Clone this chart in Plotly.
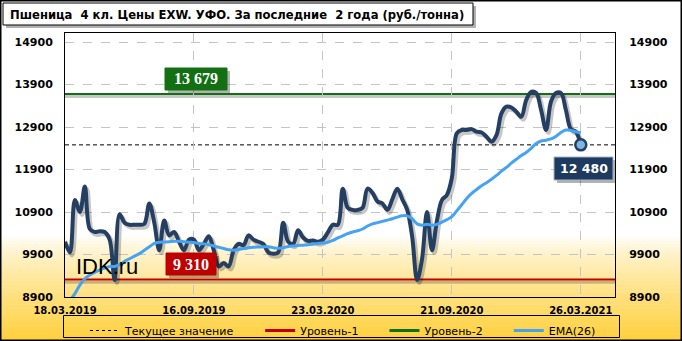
import plotly.graph_objects as go

# ---------------- data ----------------
tick_labels = ["18.03.2019", "16.09.2019", "23.03.2020", "21.09.2020", "26.03.2021"]
tick_index = [0, 26, 52, 78, 104]

price = [10200, 9950, 11180, 10900, 11500, 10500, 10430, 10450, 10430, 10250,
         9300, 10850, 10650, 10600, 10600, 10600, 10620, 11100, 10650, 10000,
         10700, 10350, 10430, 10200, 10000, 10250, 10250, 10000, 10150, 10330,
         10000, 9620, 9700, 9620, 10000, 10150, 10120, 10350, 10250, 10200,
         10150, 9950, 9920, 9950, 10650, 10200, 10150, 10470, 10300, 10220,
         10230, 10200, 10250, 10420, 10600, 10600, 11450, 11000, 10950, 10950,
         11000, 11450, 11350, 11150, 11100, 10950, 11200, 11450, 11200, 10950,
         10320, 9300, 9800, 10900, 10000, 10700, 11180, 11300, 11700, 12750,
         12830, 12830, 12850, 12790, 12770, 12670, 12555, 12710, 13220, 13380,
         13360, 13260, 13140, 13535, 13730, 13700, 13300, 12830, 13500, 13700,
         13700, 13300, 12850, 12790, 12480]

ema26 = [8650, 8820, 8980, 9180, 9330, 9420, 9480, 9540, 9580, 9620,
         9620, 9660, 9740, 9800, 9860, 9920, 10000, 10080, 10160, 10190,
         10195, 10200, 10210, 10210, 10200, 10190, 10180, 10160, 10150, 10130,
         10100, 10070, 10040, 10010, 10000, 10020, 10040, 10060, 10070, 10075,
         10080, 10080, 10060, 10045, 10060, 10090, 10100, 10110, 10120, 10130,
         10145, 10160, 10170, 10190, 10230, 10290, 10340, 10390, 10430, 10460,
         10500, 10570, 10620, 10650, 10680, 10710, 10740, 10780, 10810, 10810,
         10740, 10620, 10590, 10610, 10590, 10610, 10660, 10720, 10790, 10930,
         11070, 11220, 11340, 11430, 11520, 11590, 11670, 11760, 11860, 11950,
         12050, 12140, 12230, 12300, 12400, 12510, 12570, 12590, 12620, 12680,
         12770, 12830, 12820, 12790, 12760]

level1 = 9310
level2 = 13679
current_value = 12480
level1_text = "9 310"
level2_text = "13 679"
current_text = "12 480"
y_ticks = [8900, 9900, 10900, 11900, 12900, 13900, 14900]
y_tick_text = [str(v) for v in y_ticks]

legend_names = ["Текущее значение", "Уровень-1", "Уровень-2", "EMA(26)"]
title_text = "Пшеница  4 кл. Цены EXW. УФО. За последние  2 года (руб./тонна)"

# ---------------- layout geometry ----------------
W, H = 682, 341
ML, MR, MT, MB = 65, 67, 33, 44
PW, PH = W - ML - MR, H - MT - MB
X_RANGE = [0, 110.9]
Y_RANGE = [8900, 15112]


def px(xp):
    return (xp - ML) / PW


def py(yp):
    return (H - MB - yp) / PH


NB = "\u00a0"
idx = list(range(len(price)))
idx_e = list(range(len(ema26)))

DARK = "#243F62"
BLUE = "#45A3F2"
RED = "#C00000"
GREEN = "#127012"
FONT = "DejaVu Sans"

fig = go.Figure()

# legend-only entries for reference lines (trailing no-break spaces set item spacing)
fig.add_trace(go.Scatter(x=[None], y=[None], mode="lines", name=legend_names[0] + NB * 6,
                         line=dict(color="black", width=1, dash="3px,3px")))
fig.add_trace(go.Scatter(x=[None], y=[None], mode="lines", name=legend_names[1] + NB * 6,
                         line=dict(color=RED, width=3)))
fig.add_trace(go.Scatter(x=[None], y=[None], mode="lines", name=legend_names[2] + NB * 6,
                         line=dict(color=GREEN, width=3)))

# shadow of main series
fig.add_trace(go.Scatter(x=[i + 0.45 for i in idx], y=[v - 65 for v in price], mode="lines",
                         line=dict(color="rgba(0,0,0,0.22)", width=4.5, shape="spline", smoothing=1),
                         showlegend=False, hoverinfo="skip"))
# main series
fig.add_trace(go.Scatter(x=idx, y=price, mode="lines", name="Цена",
                         line=dict(color=DARK, width=4, shape="spline", smoothing=1),
                         showlegend=False))
# EMA
fig.add_trace(go.Scatter(x=idx_e, y=ema26, mode="lines", name=legend_names[3],
                         line=dict(color=BLUE, width=3, shape="spline", smoothing=1)))
# last point marker
fig.add_trace(go.Scatter(x=[idx[-1]], y=[price[-1]], mode="markers", showlegend=False,
                         marker=dict(size=11, color="#7DB6DE", line=dict(color=DARK, width=2.5))))
# right axis carrier
fig.add_trace(go.Scatter(x=[None], y=[None], yaxis="y2", showlegend=False))

shapes = []
# background gradient stripes (bottom area)
top_px, n = 236, 40
step = (H - top_px) / n
for k in range(n):
    t = (k + 0.5) / n
    f = t ** 0.75
    g = round(255 - (255 - 208) * f)
    b = round(255 - (255 - 60) * f)
    y0p = top_px + k * step
    shapes.append(dict(type="rect", xref="paper", yref="paper", layer="below",
                       x0=px(0), x1=px(W), y0=py(y0p + step + 0.5), y1=py(y0p),
                       fillcolor=f"rgb(255,{g},{b})", line=dict(width=0)))

# level line shadows and lines
for lv, col in [(level1, RED), (level2, GREEN)]:
    shapes.append(dict(type="line", xref="x domain", yref="y", x0=0, x1=1, y0=lv - 60, y1=lv - 60,
                       line=dict(color="rgba(0,0,0,0.22)", width=3), layer="below"))
    shapes.append(dict(type="line", xref="x domain", yref="y", x0=0, x1=1, y0=lv, y1=lv,
                       line=dict(color=col, width=2), layer="below"))
shapes.append(dict(type="line", xref="x domain", yref="y", x0=0, x1=1,
                   y0=current_value, y1=current_value,
                   line=dict(color="black", width=1, dash="4px,3px"), layer="below"))


def box(x0, y0, x1, y1, fill, line_col=None, shadow=True):
    out = []
    if shadow:
        out.append(dict(type="rect", xref="paper", yref="paper",
                        x0=px(x0 + 3), x1=px(x1 + 3), y0=py(y1 + 3), y1=py(y0 + 3),
                        fillcolor="rgba(0,0,0,0.3)", line=dict(width=0)))
    out.append(dict(type="rect", xref="paper", yref="paper",
                    x0=px(x0), x1=px(x1), y0=py(y1), y1=py(y0), fillcolor=fill,
                    line=dict(color=line_col or fill, width=1)))
    return out


# title box
shapes += box(3, 3, 473, 25, "white", "black")
# level label boxes
shapes += box(165, 68, 227, 90, GREEN)
shapes += box(166, 253, 216, 275, RED)
shapes += box(554, 157, 613, 180, "#1E3A5E", "#9FB4CC")
# legend frame
shapes.append(dict(type="rect", xref="paper", yref="paper",
                   x0=px(63.5), x1=px(619.5), y0=py(337.5), y1=py(315.5),
                   line=dict(color="black", width=1)))
# outer frame
shapes.append(dict(type="rect", xref="paper", yref="paper",
                   x0=px(0.5), x1=px(W - 0.5), y0=py(H - 0.5), y1=py(0.5),
                   line=dict(color="black", width=2)))

annotations = [
    dict(text=title_text, xref="paper", yref="paper", x=px(8), y=py(14.5),
         xanchor="left", yanchor="middle", showarrow=False,
         font=dict(family=FONT, size=11.6, color="black", weight="bold")),
    dict(text=level2_text, xref="paper", yref="paper", x=px(196), y=py(79),
         xanchor="center", yanchor="middle", showarrow=False,
         font=dict(family="Liberation Serif", size=16, color="white", weight="bold")),
    dict(text=level1_text, xref="paper", yref="paper", x=px(191), y=py(264),
         xanchor="center", yanchor="middle", showarrow=False,
         font=dict(family="Liberation Serif", size=16, color="white", weight="bold")),
    dict(text=current_text, xref="paper", yref="paper", x=px(583.5), y=py(168.5),
         xanchor="center", yanchor="middle", showarrow=False,
         font=dict(family=FONT, size=12.5, color="white", weight="bold")),
    dict(text="IDK.ru", xref="paper", yref="paper", x=px(107), y=py(266),
         xanchor="center", yanchor="middle", showarrow=False,
         font=dict(family="Liberation Sans", size=22, color="black")),
]

axis_font = dict(family=FONT, size=11, color="black", weight="bold")

fig.update_layout(
    width=W, height=H,
    margin=dict(l=ML, r=MR, t=MT, b=MB, pad=0, autoexpand=False),
    paper_bgcolor="white",
    plot_bgcolor="rgba(0,0,0,0)",
    shapes=shapes,
    annotations=annotations,
    showlegend=True,
    legend=dict(orientation="h", x=px(85), y=py(316), xanchor="left", yanchor="top",
                borderwidth=0, bgcolor="rgba(0,0,0,0)",
                font=dict(family=FONT, size=11, color="black"),
                itemwidth=30, tracegroupgap=0),
    xaxis=dict(range=X_RANGE, tickmode="array", tickvals=tick_index, ticktext=tick_labels,
               showgrid=True, gridcolor="#C4C4C4", griddash="dash", gridwidth=1,
               showline=True, linecolor="black", linewidth=1, mirror=True,
               ticks="outside", ticklen=4, tickcolor="rgba(0,0,0,0)",
               tickfont=dict(family=FONT, size=10, color="black", weight="bold"),
               zeroline=False, fixedrange=True),
    yaxis=dict(range=Y_RANGE, tickmode="array", tickvals=y_ticks, ticktext=y_tick_text,
               showgrid=True, gridcolor="#C4C4C4", griddash="dash", gridwidth=1,
               showline=True, linecolor="black", linewidth=1, mirror=True,
               ticks="outside", ticklen=9, tickcolor="rgba(0,0,0,0)",
               tickfont=axis_font, zeroline=False),
    yaxis2=dict(range=Y_RANGE, overlaying="y", side="right", matches="y",
                tickmode="array", tickvals=y_ticks, ticktext=y_tick_text, showgrid=False,
                ticks="outside", ticklen=11, tickcolor="rgba(0,0,0,0)",
                tickfont=axis_font, zeroline=False, showline=False),
)

fig.write_html("out.html")
